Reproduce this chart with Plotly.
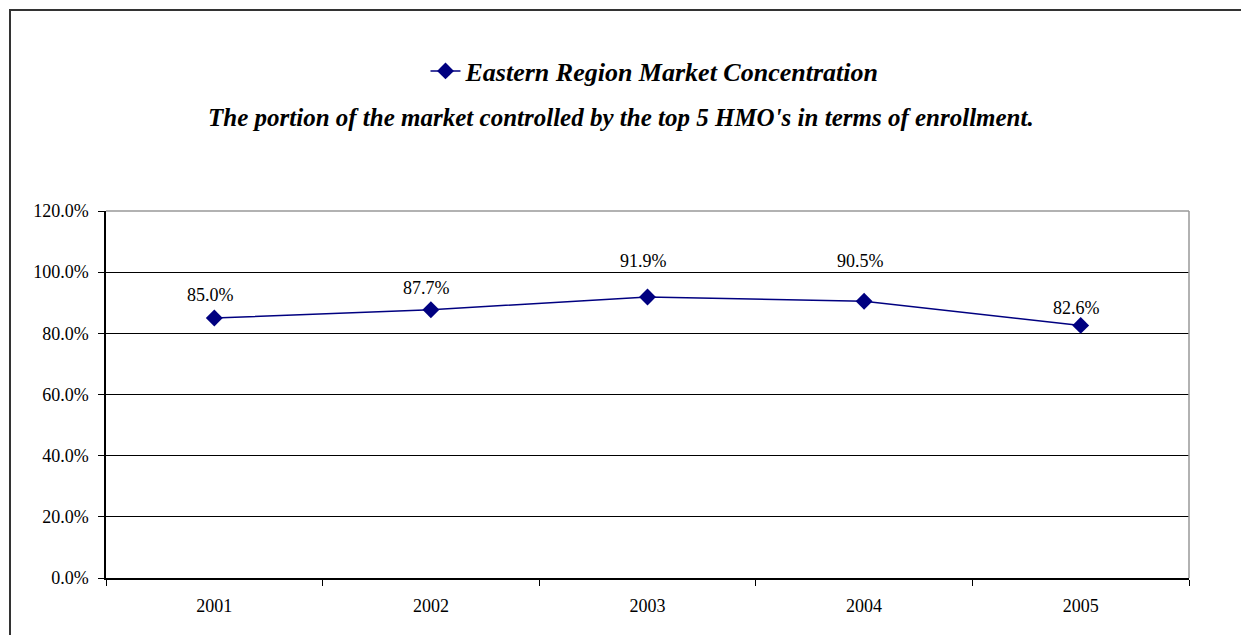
import plotly.graph_objects as go

# Share of enrollment held by the five largest HMOs, by year
years = ["2001", "2002", "2003", "2004", "2005"]
share_pct = [85.0, 87.7, 91.9, 90.5, 82.6]
y_ticks = [0, 20, 40, 60, 80, 100, 120]

# vertical lift (px) of each value label above its marker
label_lift = [23, 22, 36, 40, 17]

SERIF = "Liberation Serif, Times New Roman, serif"
NAVY = "#000080"

W, H = 1241, 635
ML, MR, MT, MB = 106, 52, 211, 57
PW, PH = W - ML - MR, H - MT - MB


def px_x(x):
    return (x - ML) / PW


def px_y(y):
    return 1 - (y - MT) / PH


fig = go.Figure()
fig.add_trace(go.Scatter(
    x=years, y=share_pct, mode="lines+markers",
    name="Eastern Region Market Concentration",
    line=dict(color=NAVY, width=1.5),
    marker=dict(symbol="diamond", size=13, color=NAVY),
))

annotations = []
# category axes place annotations by category index
for i, (v, lift) in enumerate(zip(share_pct, label_lift)):
    annotations.append(dict(
        x=i, y=v, xref="x", yref="y", text=f"{v:.1f}%",
        showarrow=False, yshift=lift, xshift=-4,
        font=dict(family=SERIF, size=18, color="#000000"),
    ))

annotations.append(dict(
    x=px_x(621), y=px_y(118), xref="paper", yref="paper",
    text="<b><i>The portion of the market controlled by the top 5 HMO's in terms of enrollment.</i></b>",
    showarrow=False, xanchor="center", yanchor="middle",
    font=dict(family=SERIF, size=25, color="#000000"),
))

shapes = [
    # outer chart frame
    dict(type="rect", xref="paper", yref="paper",
         x0=px_x(10), x1=px_x(1250), y0=px_y(645), y1=px_y(10),
         line=dict(color="#333333", width=2), layer="above"),
    # top and right edges of the plot area
    dict(type="line", xref="paper", yref="paper", x0=0, x1=1, y0=1, y1=1,
         line=dict(color="#999999", width=1.5), layer="above"),
    dict(type="line", xref="paper", yref="paper", x0=1, x1=1, y0=0, y1=1,
         line=dict(color="#999999", width=1.5), layer="above"),
]

fig.update_layout(
    width=W, height=H,
    margin=dict(l=ML, r=MR, t=MT, b=MB),
    paper_bgcolor="white", plot_bgcolor="white",
    font=dict(family=SERIF, color="#000000"),
    showlegend=True,
    legend=dict(
        x=px_x(655), y=px_y(71), xanchor="center", yanchor="middle",
        orientation="h", bgcolor="rgba(0,0,0,0)",
        font=dict(family=SERIF, size=26, color="#000000", style="italic", weight="bold"),
    ),
    annotations=annotations,
    shapes=shapes,
)

fig.update_xaxes(
    type="category", range=[-0.5, 4.5],
    showline=True, linecolor="#000000", linewidth=1.5,
    ticks="outside", tickson="boundaries", ticklen=6, tickcolor="#000000",
    showgrid=False, zeroline=False,
    tickfont=dict(family=SERIF, size=18, color="#000000"),
    ticklabelstandoff=11,
)

fig.update_yaxes(
    range=[0, 120], tickmode="array", tickvals=y_ticks,
    ticktext=[f"{t:.1f}%" for t in y_ticks],
    showline=True, linecolor="#000000", linewidth=1.5,
    ticks="outside", ticklen=6, tickcolor="#000000",
    showgrid=True, gridcolor="#000000", gridwidth=1,
    zeroline=False,
    tickfont=dict(family=SERIF, size=18, color="#000000"),
    ticklabelstandoff=6,
)

fig.write_html("out.html")
